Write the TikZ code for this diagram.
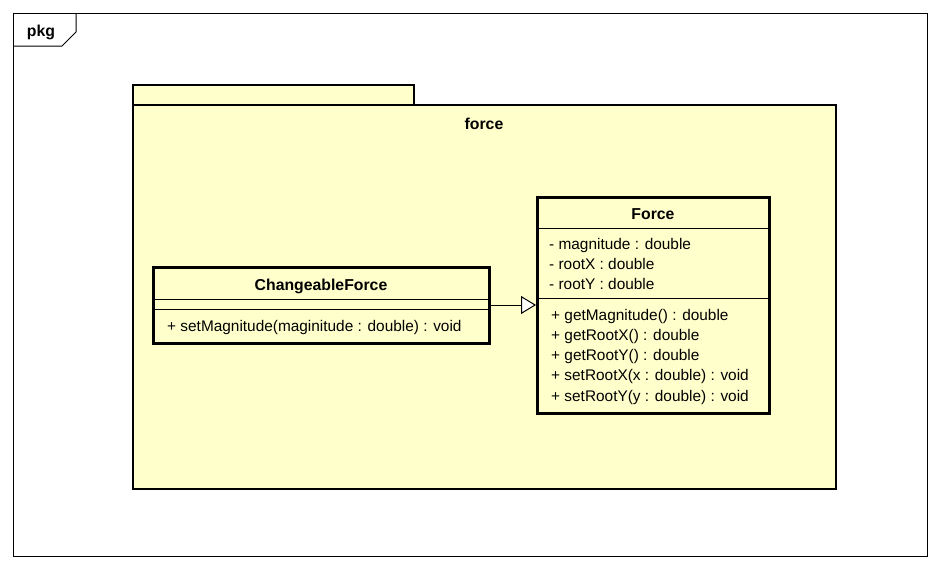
\documentclass[tikz,border=0pt]{standalone}
\usepackage{fontspec}
\setmainfont{Liberation Sans}
\usetikzlibrary{arrows.meta}
\definecolor{pkgfill}{HTML}{FFFFCC}
\begin{document}
\begin{tikzpicture}[x=1pt,y=-1pt,
  txt/.style={inner sep=0pt,anchor=west,text height=11pt,text depth=3pt,yshift=-1.5pt,font=\fontsize{15.4}{17}\selectfont},
  ttl/.style={inner sep=0pt,text height=11.5pt,text depth=3pt,yshift=-1.5pt,font=\fontsize{15.8}{17}\selectfont\bfseries},
  classbox/.style={draw=black,line width=3pt,fill=pkgfill},
  sep/.style={draw=black,line width=1pt}]
\useasboundingbox (0,0) rectangle (940,570);
\fill[white] (0,0) rectangle (940,570);
% outer frame
\draw[line width=1pt] (13,13) rectangle (927,556);
\draw[line width=1pt] (13,46) -- (62,46) -- (76,32) -- (76,13);
\node[ttl] (pkg) at (41,31) {pkg};
% package
\draw[line width=2.6pt,fill=pkgfill] (133,85) rectangle (414,105);
\draw[line width=2.6pt,fill=pkgfill] (133,105) rectangle (836,489);
\node[ttl] (pkgname) at (484,124) {force};
% ChangeableForce
\draw[classbox] (153,267) rectangle (489,343);
\node[ttl] (cfname) at (321,285) {ChangeableForce};
\draw[sep] (153,299) -- (489,299);
\draw[sep] (153,309) -- (489,309);
\node[txt] (cfm) at (167,326) {+ setMagnitude(maginitude : double) : void};
\coordinate (cfright) at (489,305);
% Force
\draw[classbox] (537,197) rectangle (769,413);
\node[ttl] (fname) at (653,214) {Force};
\draw[sep] (537,228) -- (769,228);
\node[txt] (a1) at (549,244) {- magnitude : double};
\node[txt] (a2) at (549,264) {- rootX : double};
\node[txt] (a3) at (549,284) {- rootY : double};
\draw[sep] (537,298) -- (769,298);
\node[txt] (m1) at (551,315) {+ getMagnitude() : double};
\node[txt] (m2) at (551,335) {+ getRootX() : double};
\node[txt] (m3) at (551,355) {+ getRootY() : double};
\node[txt] (m4) at (551,375) {+ setRootX(x : double) : void};
\node[txt] (m5) at (551,396) {+ setRootY(y : double) : void};
\coordinate (fleft) at (536,305);
% generalization
\draw[line width=1pt,-{Triangle[open,length=15pt,width=18pt,fill=white]}] (cfright) -- (fleft);
\end{tikzpicture}
\end{document}
